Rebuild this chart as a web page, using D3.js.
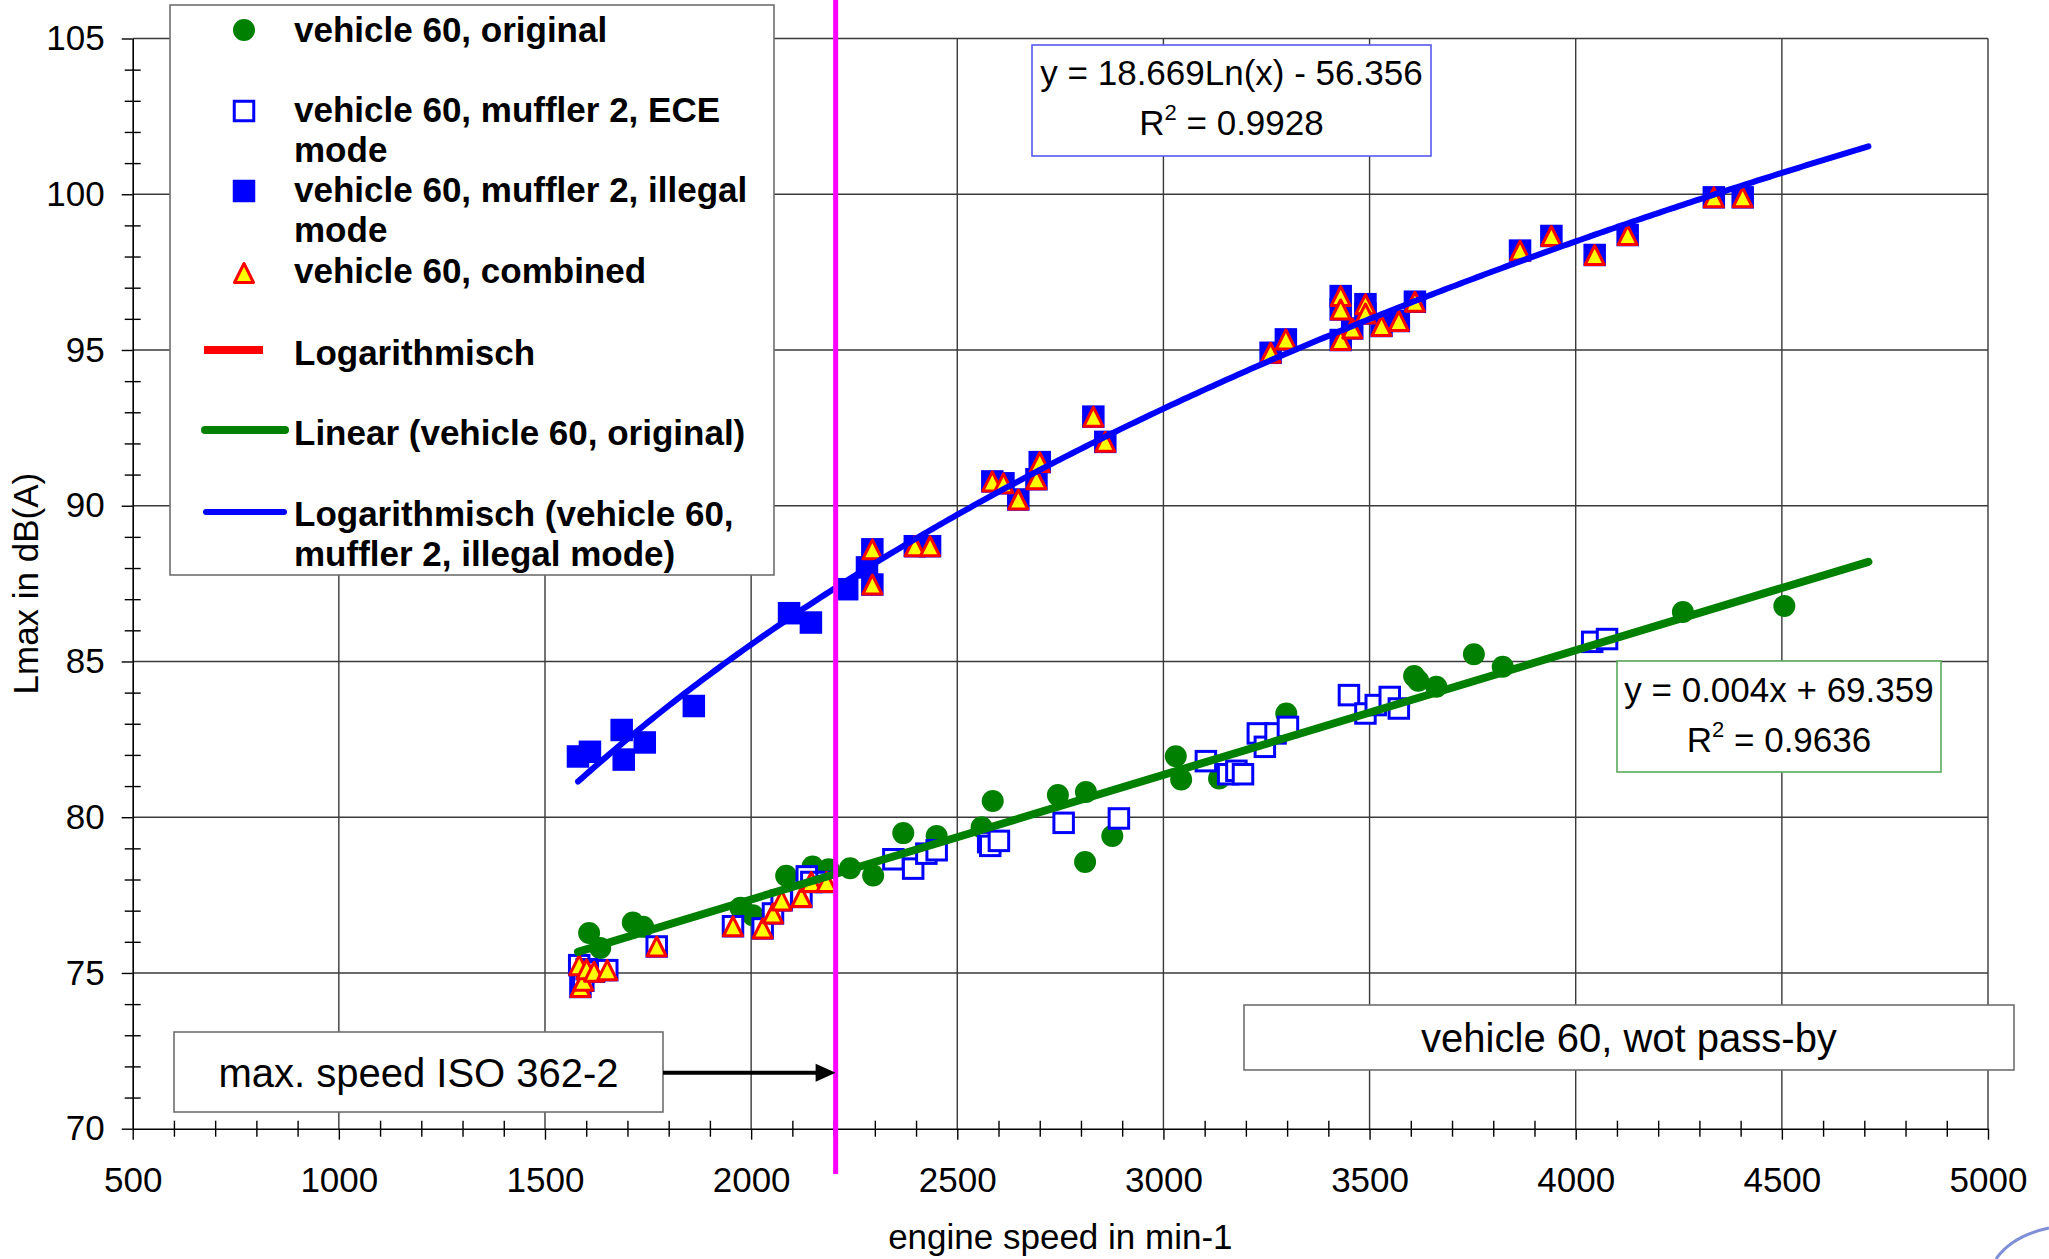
<!DOCTYPE html>
<html>
<head>
<meta charset="utf-8">
<script src="https://cdn.jsdelivr.net/npm/d3@7"></script>
<style>
  html, body { margin: 0; padding: 0; background: #fff; }
  svg { display: block; font-family: Arial, "Liberation Sans", sans-serif; }
</style>
</head>
<body>
<svg id="chart" width="2049" height="1259"></svg>
<script>
// ---- data (engine speed in min-1, Lmax in dB(A)) ----
const xTicks = [500, 1000, 1500, 2000, 2500, 3000, 3500, 4000, 4500, 5000];
const yTicks = [70, 75, 80, 85, 90, 95, 100, 105];

const original = [
  [1607, 76.28], [1634, 75.80], [1713, 76.62], [1738, 76.48], [1974, 77.09], [2004, 76.85],
  [2085, 78.12], [2149, 78.42], [2188, 78.33], [2240, 78.36], [2296, 78.13], [2369, 79.49],
  [2450, 79.40], [2559, 79.68], [2586, 80.52], [2744, 80.71], [2812, 80.81], [2876, 79.40],
  [2810, 78.56], [3030, 81.96], [3043, 81.21], [3135, 81.24], [3298, 83.33], [3608, 84.53],
  [3618, 84.38], [3662, 84.19], [3753, 85.23], [3823, 84.83], [4260, 86.59], [4506, 86.78]
];

const eceMode = [
  [1583, 75.25], [1586, 74.55], [1593, 74.75], [1601, 75.12], [1619, 75.04], [1651, 75.09],
  [1771, 75.85], [1956, 76.50], [2028, 76.43], [2053, 76.91], [2074, 77.33], [2122, 77.44],
  [2135, 78.10], [2146, 77.92], [2183, 77.92],
  [2345, 78.65], [2393, 78.35], [2425, 78.83], [2450, 78.94], [2575, 79.20], [2580, 79.08],
  [2601, 79.24], [2758, 79.82], [2892, 79.96], [3103, 81.80], [3157, 81.38], [3177, 81.49],
  [3193, 81.38], [3229, 82.69], [3246, 82.26], [3272, 82.69], [3302, 82.90], [3450, 83.92],
  [3490, 83.33], [3515, 83.60], [3549, 83.86], [3571, 83.49], [4040, 85.63], [4076, 85.72]
];

const illegalMode = [
  [1580, 81.95], [1609, 82.10], [1686, 82.80], [1691, 81.85], [1742, 82.40], [1861, 83.57],
  [2092, 86.55], [2145, 86.25], [2233, 87.32], [2281, 88.02],
  [2294, 88.60], [2294, 87.47], [2397, 88.70], [2434, 88.70], [2585, 90.78], [2612, 90.72],
  [2648, 90.20], [2692, 90.85], [2700, 91.40], [2830, 92.86], [2859, 92.05], [3260, 94.91],
  [3297, 95.34], [3430, 96.73], [3430, 96.30], [3430, 95.32], [3458, 95.69], [3490, 96.47],
  [3490, 96.17], [3529, 95.77], [3571, 95.93], [3610, 96.55], [3865, 98.19], [3941, 98.66],
  [4046, 98.05], [4126, 98.69], [4335, 99.90], [4405, 99.90]
];

const combined = [
  [1583, 75.25], [1586, 74.55], [1593, 74.75], [1601, 75.12], [1619, 75.04], [1651, 75.09],
  [1771, 75.85], [1956, 76.50], [2028, 76.43], [2053, 76.91], [2074, 77.33], [2122, 77.44],
  [2146, 77.92], [2183, 77.92],
  [2294, 88.60], [2294, 87.47], [2397, 88.70], [2434, 88.70], [2585, 90.78], [2612, 90.72],
  [2648, 90.20], [2692, 90.85], [2700, 91.40], [2830, 92.86], [2859, 92.05], [3260, 94.91],
  [3297, 95.34], [3430, 96.73], [3430, 96.30], [3430, 95.32], [3458, 95.69], [3490, 96.47],
  [3490, 96.17], [3529, 95.77], [3571, 95.93], [3610, 96.55], [3865, 98.19], [3941, 98.66],
  [4046, 98.05], [4126, 98.69], [4335, 99.90], [4405, 99.90]
];

// trendlines as printed on the chart
const logCoef = [18.669, -56.356];   // y = a*ln(x) + b
const linCoef = [0.004, 69.359];     // y = a*x + b
const trendRange = [1580, 4710];
const maxSpeed = 2205;

// ---- scales ----
const svg = d3.select('#chart');
const x = d3.scaleLinear().domain([500, 5000]).range([132.7, 1988]);
const y = d3.scaleLinear().domain([70, 105]).range([1128.7, 38.5]);

// ---- grid ----
const grid = svg.append('g').attr('stroke', '#3a3a3a').attr('stroke-width', 1.4);
grid.selectAll('.vg').data(xTicks.slice(1)).join('line')
  .attr('x1', d => x(d)).attr('x2', d => x(d))
  .attr('y1', y(105)).attr('y2', y(70));
grid.selectAll('.hg').data(yTicks.slice(1)).join('line')
  .attr('x1', x(500)).attr('x2', x(5000))
  .attr('y1', d => y(d)).attr('y2', d => y(d));

// ---- axes ----
const xMinor = d3.range(600, 5000, 100).filter(v => v % 500 !== 0);
const yMinor = d3.range(71, 105, 1).filter(v => v % 5 !== 0);

const gx = svg.append('g').attr('transform', `translate(0,${y(70)})`)
  .call(d3.axisBottom(x).tickValues(xTicks).tickSize(11).tickSizeOuter(0).tickPadding(27).tickFormat(d3.format('d')));
const gxm = svg.append('g').attr('transform', `translate(0,${y(70)})`)
  .call(d3.axisBottom(x).tickValues(xMinor).tickSize(8).tickSizeOuter(0).tickFormat(''));
gxm.selectAll('.tick line').attr('y1', -8);
gxm.select('.domain').remove();

const gy = svg.append('g').attr('transform', `translate(${x(500)},0)`)
  .call(d3.axisLeft(y).tickValues(yTicks).tickSize(11).tickSizeOuter(0).tickPadding(17).tickFormat(d3.format('d')));
const gym = svg.append('g').attr('transform', `translate(${x(500)},0)`)
  .call(d3.axisLeft(y).tickValues(yMinor).tickSize(8).tickSizeOuter(0).tickFormat(''));
gym.selectAll('.tick line').attr('x1', 8);
gym.select('.domain').remove();

[gx, gy, gxm, gym].forEach(g => {
  g.selectAll('.domain').attr('stroke', '#000').attr('stroke-width', 1.6);
  g.selectAll('.tick line').attr('stroke', '#000').attr('stroke-width', 1.4);
  g.selectAll('.tick text').attr('fill', '#000').attr('font-size', 35)
    .attr('font-family', 'Arial, "Liberation Sans", sans-serif');
});

svg.append('text')
  .attr('x', (x(500) + x(5000)) / 2).attr('y', 1249)
  .attr('text-anchor', 'middle').attr('font-size', 35)
  .text('engine speed in min-1');
svg.append('text')
  .attr('transform', `translate(38,${(y(70) + y(105)) / 2}) rotate(-90)`)
  .attr('text-anchor', 'middle').attr('font-size', 35)
  .text('Lmax in dB(A)');

// ---- markers ----
const tri = (cx, cy, s) => `M${cx},${cy - s}L${cx + s},${cy + s}L${cx - s},${cy + s}Z`;

svg.append('g').selectAll('circle').data(original).join('circle')
  .attr('cx', d => x(d[0])).attr('cy', d => y(d[1])).attr('r', 11)
  .attr('fill', '#008000');

svg.append('g').selectAll('rect').data(eceMode).join('rect')
  .attr('x', d => x(d[0]) - 9.75).attr('y', d => y(d[1]) - 9.75)
  .attr('width', 19.5).attr('height', 19.5)
  .attr('fill', '#fff').attr('stroke', '#0000ff').attr('stroke-width', 3);

svg.append('g').selectAll('rect').data(illegalMode).join('rect')
  .attr('x', d => x(d[0]) - 11.25).attr('y', d => y(d[1]) - 11.25)
  .attr('width', 22.5).attr('height', 22.5)
  .attr('fill', '#0000ff');

svg.append('g').selectAll('path').data(combined).join('path')
  .attr('d', d => tri(x(d[0]), y(d[1]), 9.5))
  .attr('fill', '#ffff00').attr('stroke', '#ff0000').attr('stroke-width', 3)
  .attr('stroke-linejoin', 'round');

// ---- trendlines ----
const steps = d3.range(trendRange[0], trendRange[1] + 1, 10);
const line = d3.line().x(d => x(d[0])).y(d => y(d[1]));

svg.append('path')
  .datum(trendRange.map(v => [v, linCoef[0] * v + linCoef[1]]))
  .attr('d', line).attr('fill', 'none')
  .attr('stroke', '#008000').attr('stroke-width', 8).attr('stroke-linecap', 'round');

svg.append('path')
  .datum(steps.map(v => [v, logCoef[0] * Math.log(v) + logCoef[1]]))
  .attr('d', line).attr('fill', 'none')
  .attr('stroke', '#0000ff').attr('stroke-width', 6).attr('stroke-linecap', 'round');

// ---- max speed marker ----
svg.append('line')
  .attr('x1', x(maxSpeed)).attr('x2', x(maxSpeed))
  .attr('y1', 0).attr('y2', 1174)
  .attr('stroke', '#ff00ff').attr('stroke-width', 5);

// ---- annotation boxes ----
function box(x0, y0, w, h, stroke) {
  svg.append('rect').attr('x', x0).attr('y', y0).attr('width', w).attr('height', h)
    .attr('fill', '#fff').attr('stroke', stroke).attr('stroke-width', 1.6);
}

box(174, 1032, 489, 80, '#6f6f6f');
svg.append('text').attr('x', 418.5).attr('y', 1087).attr('text-anchor', 'middle')
  .attr('font-size', 40).text('max. speed ISO 362-2');

const arrowY = y(71.8);
svg.append('line').attr('x1', 663).attr('x2', x(maxSpeed) - 18)
  .attr('y1', arrowY).attr('y2', arrowY)
  .attr('stroke', '#000').attr('stroke-width', 4);
svg.append('path')
  .attr('d', `M${x(maxSpeed)},${arrowY}L${x(maxSpeed) - 20},${arrowY - 9}L${x(maxSpeed) - 20},${arrowY + 9}Z`)
  .attr('fill', '#000');

box(1244, 1005, 770, 65, '#6f6f6f');
svg.append('text').attr('x', 1629).attr('y', 1052).attr('text-anchor', 'middle')
  .attr('font-size', 40).text('vehicle 60, wot pass-by');

function eqBox(x0, y0, w, h, stroke, eq, r2, b1, b2) {
  box(x0, y0, w, h, stroke);
  const cx = x0 + w / 2;
  svg.append('text').attr('x', cx).attr('y', b1).attr('text-anchor', 'middle')
    .attr('font-size', 35).text(eq);
  const t = svg.append('text').attr('x', cx).attr('y', b2).attr('text-anchor', 'middle')
    .attr('font-size', 35);
  t.append('tspan').text('R');
  t.append('tspan').attr('font-size', 22).attr('dy', -15).text('2');
  t.append('tspan').attr('dy', 15).text(' = ' + r2);
}
eqBox(1032, 45, 399, 111, '#5858f0', 'y = 18.669Ln(x) - 56.356', '0.9928', 85, 135);
eqBox(1617, 661, 324, 111, '#5aaa5a', 'y = 0.004x + 69.359', '0.9636', 702, 752);

// ---- legend ----
const legend = svg.append('g');
legend.append('rect').attr('x', 170).attr('y', 5).attr('width', 604).attr('height', 570)
  .attr('fill', '#fff').attr('stroke', '#6f6f6f').attr('stroke-width', 1.6);

const legendText = [
  { lines: ['vehicle 60, original'], base: 42 },
  { lines: ['vehicle 60, muffler 2, ECE', 'mode'], base: 122 },
  { lines: ['vehicle 60, muffler 2, illegal', 'mode'], base: 202 },
  { lines: ['vehicle 60, combined'], base: 283 },
  { lines: ['Logarithmisch'], base: 365 },
  { lines: ['Linear (vehicle 60, original)'], base: 445 },
  { lines: ['Logarithmisch (vehicle 60,', 'muffler 2, illegal mode)'], base: 526 }
];
legendText.forEach(item => {
  item.lines.forEach((s, i) => {
    legend.append('text').attr('x', 294).attr('y', item.base + i * 40)
      .attr('font-size', 35).attr('font-weight', 'bold').text(s);
  });
});

const lx = 244;
legend.append('circle').attr('cx', lx).attr('cy', 30).attr('r', 11).attr('fill', '#008000');
legend.append('rect').attr('x', lx - 9.75).attr('y', 111 - 9.75).attr('width', 19.5).attr('height', 19.5)
  .attr('fill', '#fff').attr('stroke', '#0000ff').attr('stroke-width', 3);
legend.append('rect').attr('x', lx - 11.25).attr('y', 191 - 11.25).attr('width', 22.5).attr('height', 22.5)
  .attr('fill', '#0000ff');
legend.append('path').attr('d', tri(lx, 273, 9.5))
  .attr('fill', '#ffff00').attr('stroke', '#ff0000').attr('stroke-width', 3).attr('stroke-linejoin', 'round');
legend.append('line').attr('x1', 204).attr('x2', 263).attr('y1', 350).attr('y2', 350)
  .attr('stroke', '#ff0000').attr('stroke-width', 8);
legend.append('line').attr('x1', 205).attr('x2', 285).attr('y1', 430).attr('y2', 430)
  .attr('stroke', '#008000').attr('stroke-width', 8).attr('stroke-linecap', 'round');
legend.append('line').attr('x1', 206).attr('x2', 284).attr('y1', 512).attr('y2', 512)
  .attr('stroke', '#0000ff').attr('stroke-width', 6).attr('stroke-linecap', 'round');

// fragment of a logo in the lower right corner
svg.append('path').attr('d', 'M1996,1259 Q2012,1236 2049,1228')
  .attr('fill', 'none').attr('stroke', '#8090d8').attr('stroke-width', 3);
</script>
</body>
</html>
